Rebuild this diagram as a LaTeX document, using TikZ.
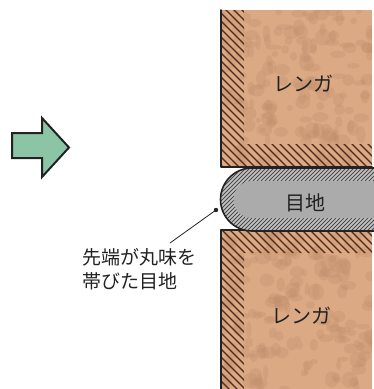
\documentclass[tikz,border=0pt]{standalone}
\usepackage{fontspec}
\newfontfamily\jp{Noto Sans CJK JP}
\definecolor{brickfill}{HTML}{DBAA85}
\definecolor{brickspot}{HTML}{C28F6C}
\definecolor{brickline}{HTML}{4A2A18}
\definecolor{mortarin}{HTML}{ABABAB}
\definecolor{mortarbg}{HTML}{C2C2C2}
\definecolor{mortarline}{HTML}{4A4A4A}
\definecolor{arrowfill}{HTML}{8CC5A5}
\definecolor{ink}{HTML}{222222}
\tikzset{
  brickhatch/.style={draw=brickline, line width=1.1pt},
  mortarhatch/.style={draw=mortarline, line width=0.75pt},
  edge/.style={draw=ink, line width=1.6pt, line cap=round, line join=round},
  bigtext/.style={font=\jp\fontsize{20}{24}\selectfont, text=ink},
  labeltext/.style={font=\jp\fontsize{19}{24}\selectfont, text=ink, align=left},
  blockarrow/.style={draw=ink, fill=arrowfill, line width=2pt, line join=miter}
}
\begin{document}
\begin{tikzpicture}[x=1pt,y=-1pt]
\useasboundingbox (0,0) rectangle (374,389);

% mottled brick body
\newcommand\brickbody[4]{%
  \fill[brickfill] (#1,#2) rectangle (#3,#4);
  \begin{scope}
    \clip (#1,#2) rectangle (#3,#4);
    \foreach \k in {1,...,170}{
      \pgfmathsetmacro\bx{#1+(#3-#1)*rnd}
      \pgfmathsetmacro\by{#2+(#4-#2)*rnd}
      \pgfmathsetmacro\rx{2.5+6*rnd}
      \pgfmathsetmacro\ry{2.5+6*rnd}
      \fill[brickspot, opacity=0.35] (\bx,\by) ellipse[x radius=\rx, y radius=\ry];
    }
  \end{scope}}
\pgfmathsetseed{11}

% upper brick
\brickbody{221}{10}{372}{167}
\begin{scope}
  \clip (221,10) -- (244,10) -- (244,144) -- (372,144) -- (372,167) -- (221,167) -- cycle;
  \foreach \i in {-200,-192,...,400} \draw[brickhatch] (\i,0) -- ++(250,250);
\end{scope}
\draw[edge] (221,10) -- (221,167) -- (372,167);

% lower brick
\brickbody{221}{230}{372}{389}
\begin{scope}
  \clip (221,230) -- (372,230) -- (372,253) -- (244,253) -- (244,389) -- (221,389) -- cycle;
  \foreach \i in {-200,-192,...,400} \draw[brickhatch] (\i,200) -- ++(250,250);
\end{scope}
\draw[edge] (221,389) -- (221,230) -- (372,230);

% mortar joint with rounded tip
\fill[mortarbg] (374,168) -- (252,168) arc[start angle=-90, end angle=-270, radius=31.5] -- (374,231) -- cycle;
\begin{scope}
  \clip (374,168) -- (252,168) arc[start angle=-90, end angle=-270, radius=31.5] -- (374,231) -- cycle;
  \foreach \i in {-100,-96,...,400} \draw[mortarhatch] (\i,250) -- ++(120,-120);
\end{scope}
\fill[mortarin] (374,181) -- (252,181) arc[start angle=-90, end angle=-270, radius=18.5] -- (374,218) -- cycle;
\draw[edge] (374,168) -- (252,168) arc[start angle=-90, end angle=-270, radius=31.5] -- (374,231);

% texts
\node[bigtext] (brickA) at (303,84) {レンガ};
\node[bigtext] (brickB) at (301,316) {レンガ};
\node[bigtext] (joint) at (305,203) {目地};

% block arrow
\draw[blockarrow] (12,133) -- (42,133) -- (42,118) -- (69,147.5) -- (42,177) -- (42,158) -- (12,158) -- cycle;

% leader to the rounded tip
\node[labeltext, anchor=north west, inner sep=0pt] (tiplabel) at (82,248) {先端が丸味を\\帯びた目地};
\coordinate (tipdot) at (216,210);
\coordinate (leadstart) at (170,243);
\fill[ink] (tipdot) circle (2.2);
\draw[ink, line width=0.8pt] (leadstart) -- (tipdot);
\end{tikzpicture}
\end{document}
